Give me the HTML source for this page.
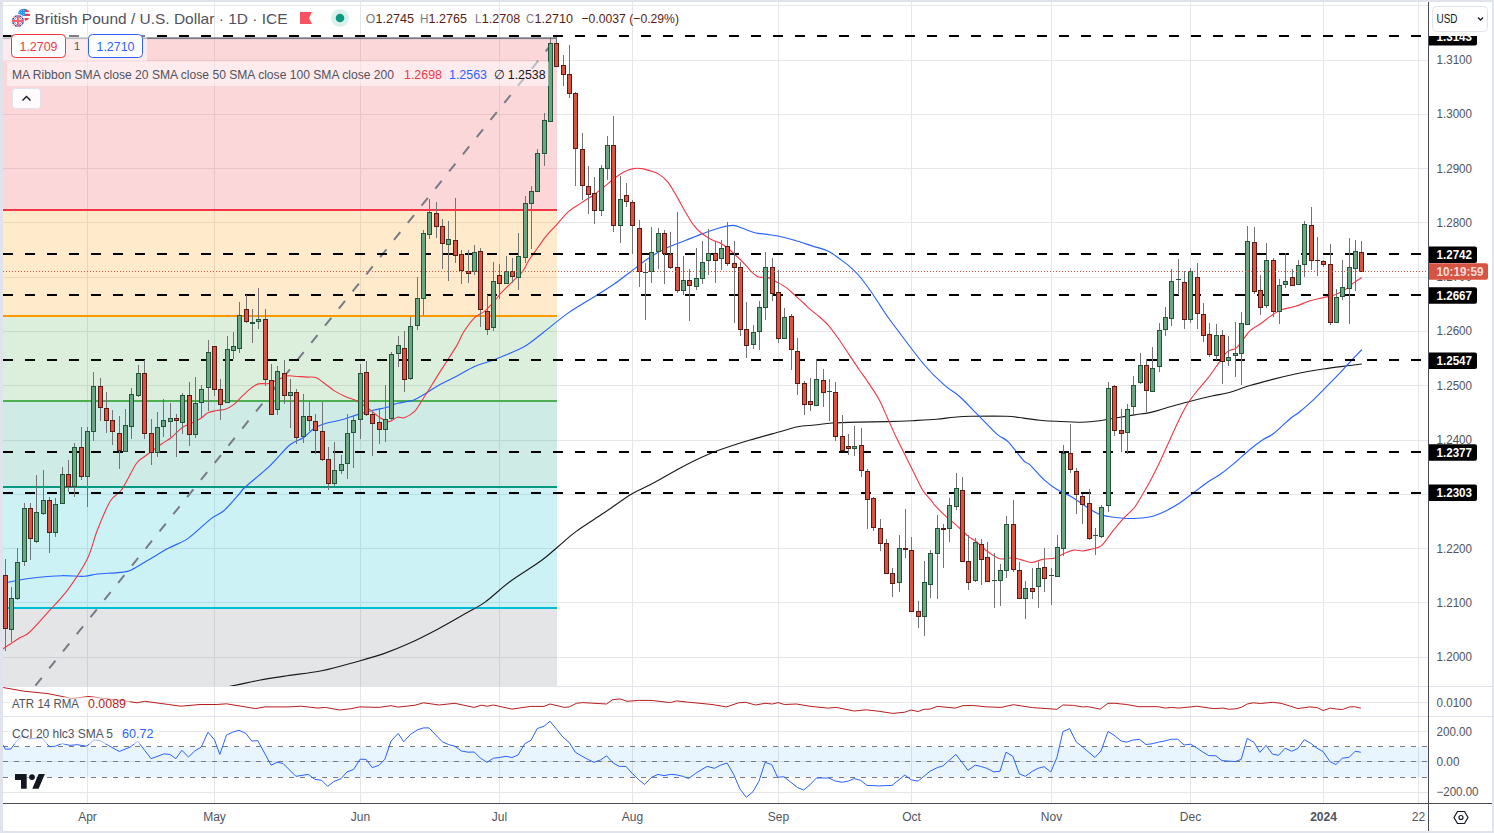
<!DOCTYPE html><html><head><meta charset="utf-8"><title>GBPUSD chart</title>
<style>html,body{margin:0;padding:0;background:#e0e3eb;}body{width:1494px;height:833px;overflow:hidden;position:relative;font-family:"Liberation Sans",sans-serif;}svg{position:absolute;left:0;top:0;display:block;}text{font-family:"Liberation Sans",sans-serif;}</style></head><body>
<svg width="1494" height="833" viewBox="0 0 1494 833">
<rect x="0" y="0" width="1494" height="833" fill="#e0e3eb"/>
<rect x="3" y="2" width="1489" height="829" fill="#ffffff"/>
<defs><clipPath id="cm"><rect x="3" y="2" width="1425.5" height="684"/></clipPath><clipPath id="ca"><rect x="3" y="687" width="1425.5" height="29"/></clipPath><clipPath id="cc"><rect x="3" y="717" width="1425.5" height="86.5"/></clipPath></defs>
<g stroke="#e6e6e8" stroke-width="1" shape-rendering="crispEdges">
<line x1="87.5" y1="2" x2="87.5" y2="803.5"/>
<line x1="214.5" y1="2" x2="214.5" y2="803.5"/>
<line x1="360.5" y1="2" x2="360.5" y2="803.5"/>
<line x1="499.5" y1="2" x2="499.5" y2="803.5"/>
<line x1="632.5" y1="2" x2="632.5" y2="803.5"/>
<line x1="778.5" y1="2" x2="778.5" y2="803.5"/>
<line x1="911.5" y1="2" x2="911.5" y2="803.5"/>
<line x1="1051.5" y1="2" x2="1051.5" y2="803.5"/>
<line x1="1190.5" y1="2" x2="1190.5" y2="803.5"/>
<line x1="1323.5" y1="2" x2="1323.5" y2="803.5"/>
<line x1="1418.5" y1="2" x2="1418.5" y2="803.5"/>
<line x1="3" y1="5.5" x2="1428.5" y2="5.5"/>
<line x1="3" y1="60.5" x2="1428.5" y2="60.5"/>
<line x1="3" y1="114.5" x2="1428.5" y2="114.5"/>
<line x1="3" y1="168.5" x2="1428.5" y2="168.5"/>
<line x1="3" y1="222.5" x2="1428.5" y2="222.5"/>
<line x1="3" y1="277.5" x2="1428.5" y2="277.5"/>
<line x1="3" y1="331.5" x2="1428.5" y2="331.5"/>
<line x1="3" y1="385.5" x2="1428.5" y2="385.5"/>
<line x1="3" y1="440.5" x2="1428.5" y2="440.5"/>
<line x1="3" y1="494.5" x2="1428.5" y2="494.5"/>
<line x1="3" y1="548.5" x2="1428.5" y2="548.5"/>
<line x1="3" y1="602.5" x2="1428.5" y2="602.5"/>
<line x1="3" y1="657.5" x2="1428.5" y2="657.5"/>
<line x1="3" y1="702.5" x2="1428.5" y2="702.5"/>
<line x1="3" y1="731.5" x2="1428.5" y2="731.5"/>
<line x1="3" y1="761.5" x2="1428.5" y2="761.5"/>
<line x1="3" y1="792.5" x2="1428.5" y2="792.5"/>
</g>
<g shape-rendering="crispEdges">
<rect x="3" y="39" width="554" height="171" fill="#f23645" fill-opacity="0.2"/>
<rect x="3" y="210" width="554" height="106" fill="#ff9800" fill-opacity="0.2"/>
<rect x="3" y="316" width="554" height="85" fill="#4caf50" fill-opacity="0.2"/>
<rect x="3" y="401" width="554" height="86" fill="#089981" fill-opacity="0.2"/>
<rect x="3" y="487" width="554" height="120.5" fill="#00bcd4" fill-opacity="0.2"/>
<rect x="3" y="607.5" width="554" height="78.5" fill="#787b86" fill-opacity="0.2"/>
</g>
<g stroke-width="2" shape-rendering="crispEdges">
<rect x="3" y="37.3" width="554" height="1.8" fill="#787b86" shape-rendering="auto"/>
<line x1="3" y1="210" x2="557" y2="210" stroke="#f23645"/>
<line x1="3" y1="316" x2="557" y2="316" stroke="#ff9800"/>
<line x1="3" y1="401" x2="557" y2="401" stroke="#4caf50"/>
<line x1="3" y1="487" x2="557" y2="487" stroke="#089981"/>
<line x1="3" y1="607.5" x2="557" y2="607.5" stroke="#00bcd4"/>
</g>
<g stroke="#e0e3eb" stroke-width="1" shape-rendering="crispEdges">
<line x1="3" y1="686.5" x2="1492" y2="686.5"/><line x1="3" y1="716.5" x2="1492" y2="716.5"/>
</g>
<rect x="3" y="746.5" width="1425.5" height="30.5" fill="#2196f3" fill-opacity="0.1" shape-rendering="crispEdges"/>
<g stroke="#787b86" stroke-width="1" stroke-dasharray="5 6" shape-rendering="crispEdges">
<line x1="3" y1="746.5" x2="1428.5" y2="746.5"/>
<line x1="3" y1="761.5" x2="1428.5" y2="761.5"/>
<line x1="3" y1="777.5" x2="1428.5" y2="777.5"/>
</g>
<g clip-path="url(#cm)">
<line x1="31.9" y1="690" x2="556.5" y2="38" stroke="#787b86" stroke-width="2" stroke-dasharray="10 12" stroke-dashoffset="16.4"/>
<path d="M225.0 687.5C226.0 687.3 225.8 687.3 231.3 686.1C236.8 684.9 250.3 681.9 259.2 680.2C268.1 678.5 277.0 677.2 287.0 675.7C297.0 674.2 310.7 673.0 321.8 670.8C332.9 668.6 346.6 664.5 356.6 661.7C366.6 658.9 376.1 656.3 384.5 653.4C392.9 650.5 400.4 647.4 408.8 643.6C417.2 639.8 427.8 634.4 436.7 629.7C445.6 625.0 456.7 618.5 464.5 614.1C472.3 609.7 478.2 607.1 485.4 601.9C492.6 596.7 500.9 588.3 509.8 581.7C518.7 575.1 533.3 566.5 541.1 560.8C548.9 555.1 552.9 550.9 558.5 546.2C564.1 541.5 568.7 536.9 575.9 531.6C583.1 526.3 594.8 519.1 603.7 513.1C612.6 507.1 623.8 498.7 631.6 494.0C639.4 489.3 644.7 487.7 652.5 483.5C660.3 479.3 672.5 472.1 680.3 467.9C688.1 463.7 694.8 460.3 701.2 457.4C707.6 454.5 712.2 452.6 720.0 449.8C727.8 447.0 740.4 442.9 750.0 440.0C759.6 437.1 772.4 433.8 780.0 431.7C787.6 429.6 791.8 427.9 797.4 426.8C803.0 425.7 809.2 425.6 814.8 425.0C820.4 424.4 825.2 423.5 832.2 423.0C839.2 422.5 849.4 422.3 858.3 422.1C867.2 421.9 879.3 421.8 887.9 421.6C896.5 421.4 904.5 421.1 912.3 420.7C920.1 420.3 929.9 419.9 936.6 419.3C943.3 418.7 948.4 417.7 954.0 417.2C959.6 416.7 963.0 416.4 971.4 416.3C979.8 416.2 997.8 416.0 1006.2 416.3C1014.6 416.6 1018.2 417.5 1023.6 418.1C1029.0 418.7 1034.8 419.7 1040.0 420.2C1045.2 420.7 1049.3 421.0 1056.1 421.3C1062.9 421.6 1075.2 422.3 1082.2 422.2C1089.2 422.1 1094.0 421.5 1099.6 420.8C1105.2 420.1 1111.4 418.7 1117.0 417.8C1122.6 416.9 1128.8 415.8 1134.4 414.9C1140.0 414.0 1146.4 413.3 1151.8 412.1C1157.2 410.9 1162.1 409.0 1168.3 407.3C1174.5 405.6 1183.4 403.0 1190.4 401.2C1197.4 399.4 1205.6 397.4 1211.8 396.0C1218.0 394.6 1223.1 394.2 1229.2 392.5C1235.3 390.8 1243.1 387.6 1250.1 385.5C1257.1 383.4 1264.9 381.4 1272.7 379.4C1280.5 377.4 1290.7 375.0 1298.8 373.3C1306.9 371.6 1315.0 370.2 1323.2 369.0C1331.4 367.8 1343.9 366.3 1350.0 365.5C1356.1 364.7 1359.7 364.2 1361.5 364.0" fill="none" stroke="#1a1a1a" stroke-width="1.15" stroke-linejoin="round" stroke-linecap="round"/>
<path d="M3.2 583.2C5.8 582.7 13.8 580.9 19.5 580.0C25.2 579.1 32.3 578.0 39.0 577.3C45.7 576.6 54.4 575.9 61.6 575.7C68.8 575.5 78.6 576.6 84.3 576.3C90.0 576.0 91.6 574.6 97.3 574.0C103.0 573.4 114.5 573.1 120.0 572.4C125.5 571.7 126.7 572.0 131.4 569.9C136.1 567.8 143.2 563.0 149.2 559.5C155.2 556.0 162.5 551.5 168.7 548.1C174.9 544.7 181.4 543.1 188.1 538.4C194.8 533.7 205.1 523.3 210.8 518.9C216.5 514.5 219.1 514.9 223.8 510.8C228.5 506.7 236.6 496.8 240.0 493.0C243.4 489.2 240.5 491.3 245.2 487.0C249.9 482.7 262.5 472.8 269.6 466.1C276.7 459.4 284.2 449.6 289.7 445.0C295.2 440.4 299.8 440.1 303.7 437.5C307.6 434.9 310.3 430.8 313.9 428.5C317.5 426.2 321.6 424.7 326.1 423.3C330.6 421.9 336.8 421.2 341.8 419.8C346.8 418.4 352.4 416.1 357.4 414.6C362.4 413.1 368.4 411.5 373.1 410.3C377.8 409.1 383.1 408.4 387.0 407.3C390.9 406.2 393.3 404.4 397.5 403.3C401.7 402.2 408.7 401.8 413.1 400.3C417.5 398.8 421.1 396.1 425.3 393.7C429.5 391.3 434.2 387.8 439.2 385.0C444.2 382.2 451.0 379.2 456.6 376.3C462.2 373.4 468.4 369.3 474.0 366.8C479.6 364.3 485.8 362.8 491.4 360.7C497.0 358.6 503.2 356.1 508.8 353.7C514.4 351.3 520.6 348.9 526.2 345.5C531.8 342.1 536.9 337.5 543.6 332.3C550.3 327.1 559.4 319.1 568.0 313.1C576.6 307.1 590.0 299.5 597.5 294.8C605.0 290.1 609.7 287.1 614.9 283.5C620.1 279.9 624.8 276.1 630.0 272.2C635.2 268.3 641.8 262.9 647.4 259.1C653.0 255.3 658.7 251.7 664.8 248.7C670.9 245.7 679.2 242.9 685.3 240.5C691.4 238.1 697.1 235.6 702.7 233.6C708.3 231.6 715.2 229.1 720.1 227.8C725.0 226.5 729.6 225.3 733.2 225.4C736.8 225.5 739.3 227.1 742.8 228.3C746.3 229.5 751.0 231.7 754.9 232.7C758.8 233.7 763.1 233.8 767.1 234.4C771.1 235.0 775.8 235.6 780.0 236.5C784.2 237.4 788.4 238.5 793.6 240.0C798.8 241.5 807.1 244.3 812.7 246.1C818.3 247.9 824.2 249.3 828.4 251.3C832.6 253.3 835.5 255.9 838.8 258.3C842.1 260.7 846.0 263.2 849.3 266.1C852.6 269.0 856.4 272.6 859.7 276.5C863.0 280.4 866.9 285.8 870.2 290.5C873.5 295.2 877.4 301.4 880.6 306.1C883.8 310.8 883.0 310.6 890.0 320.0C897.0 329.4 915.6 354.5 924.4 365.0C933.2 375.5 939.7 380.9 945.3 385.9C950.9 390.9 953.7 391.3 959.3 396.3C964.9 401.3 974.0 411.1 980.1 417.2C986.2 423.3 993.0 430.7 997.5 434.6C1002.0 438.5 1003.8 437.4 1008.0 441.6C1012.2 445.8 1020.1 457.0 1023.6 460.7C1027.1 464.4 1026.8 461.8 1030.0 464.8C1033.2 467.8 1039.5 475.6 1043.9 479.6C1048.3 483.6 1053.3 487.3 1057.8 490.1C1062.3 492.9 1067.1 494.2 1071.8 497.0C1076.5 499.8 1083.0 504.7 1087.4 507.5C1091.8 510.3 1095.7 512.9 1099.6 514.4C1103.5 515.9 1107.9 516.4 1111.8 517.0C1115.7 517.6 1119.8 518.1 1124.0 518.3C1128.2 518.5 1133.5 518.6 1137.9 518.3C1142.3 518.0 1147.3 517.7 1151.8 516.5C1156.3 515.3 1161.3 513.0 1165.8 510.9C1170.3 508.8 1175.3 506.0 1179.7 503.1C1184.1 500.2 1189.2 496.0 1193.6 492.7C1198.0 489.4 1203.1 485.3 1207.5 482.2C1211.9 479.1 1216.9 476.7 1221.4 473.5C1225.9 470.3 1230.9 466.0 1235.4 462.2C1239.9 458.4 1244.9 453.6 1249.3 450.0C1253.7 446.4 1259.3 442.2 1263.2 439.6C1267.1 437.0 1269.4 436.8 1273.7 433.5C1278.0 430.2 1286.0 422.1 1290.0 418.7C1294.0 415.3 1295.2 415.4 1298.8 412.5C1302.4 409.6 1308.6 404.2 1312.8 400.3C1317.0 396.4 1321.1 392.0 1325.0 388.1C1328.9 384.2 1333.1 380.1 1337.1 375.9C1341.1 371.7 1346.1 366.1 1350.0 362.0C1353.9 357.9 1359.7 351.9 1361.5 350.0" fill="none" stroke="#2962ff" stroke-width="1.15" stroke-linejoin="round" stroke-linecap="round"/>
<path d="M3.2 648.7C5.8 647.0 15.3 640.6 19.5 638.0C23.7 635.4 24.5 636.8 29.2 632.5C33.9 628.2 42.5 618.3 48.7 611.4C54.9 604.5 62.0 597.6 68.1 589.3C74.2 581.0 82.3 568.9 87.0 559.5C91.7 550.1 93.6 539.7 97.3 530.3C101.0 520.9 106.4 507.5 110.3 501.0C114.2 494.5 117.5 495.7 121.6 489.7C125.7 483.7 132.6 469.1 136.2 463.8C139.8 458.5 140.3 459.8 144.3 456.7C148.3 453.6 156.6 447.6 160.9 444.5C165.2 441.4 168.1 440.2 171.4 437.5C174.7 434.8 178.5 430.3 181.8 427.9C185.1 425.5 189.2 424.2 192.3 422.7C195.4 421.2 198.5 419.9 201.0 418.3C203.5 416.7 205.4 414.0 207.9 412.8C210.4 411.6 213.8 411.1 216.6 410.5C219.4 409.9 222.5 410.3 225.3 409.3C228.1 408.3 231.2 406.6 234.0 404.4C236.8 402.2 239.9 398.3 242.7 395.7C245.5 393.1 248.9 389.8 251.4 387.9C253.9 386.0 255.6 384.6 258.4 383.9C261.2 383.2 265.7 384.1 268.8 383.5C271.9 382.9 274.7 381.2 277.5 380.0C280.3 378.8 283.4 376.6 286.2 376.0C289.0 375.4 291.6 376.0 294.9 376.2C298.2 376.4 303.8 376.9 307.1 377.1C310.4 377.3 312.9 376.5 315.7 377.5C318.5 378.5 321.3 381.1 324.4 383.3C327.5 385.5 331.2 388.9 334.8 391.1C338.4 393.3 343.4 395.6 347.0 397.2C350.6 398.8 353.8 399.2 357.4 401.2C361.0 403.2 366.3 407.0 369.6 409.4C372.9 411.8 375.2 414.4 378.3 416.4C381.4 418.4 385.7 421.5 388.8 421.6C391.9 421.7 395.0 417.8 397.5 417.2C400.0 416.6 401.6 418.7 404.4 417.7C407.2 416.7 412.1 413.8 414.9 411.1C417.7 408.4 419.0 405.0 421.8 400.7C424.6 396.4 429.0 389.5 432.3 384.2C435.6 378.9 438.8 373.7 442.7 367.6C446.6 361.5 453.3 351.5 456.6 345.9C459.9 340.3 460.7 336.7 463.5 332.3C466.3 327.9 470.7 321.6 474.0 318.3C477.3 315.0 481.3 313.9 484.4 311.4C487.5 308.9 490.3 305.8 493.1 302.7C495.9 299.6 498.7 295.5 501.8 292.2C504.9 288.9 509.0 285.1 512.3 281.8C515.6 278.5 520.1 274.8 522.7 271.4C525.3 268.0 526.3 264.2 528.7 260.5C531.1 256.8 534.6 252.2 537.4 248.3C540.2 244.4 543.0 240.0 546.1 236.2C549.2 232.4 552.9 228.8 556.5 224.8C560.1 220.8 564.8 214.9 568.7 211.4C572.6 207.9 577.0 205.7 580.9 203.1C584.8 200.5 589.5 197.8 593.1 195.3C596.7 192.8 600.2 190.1 603.5 187.4C606.8 184.7 610.7 181.2 614.0 178.7C617.3 176.2 621.3 173.4 624.4 171.8C627.5 170.2 630.3 169.1 633.1 168.6C635.9 168.1 639.0 168.2 641.8 168.6C644.6 169.0 647.7 170.0 650.5 170.9C653.3 171.8 656.4 172.6 659.2 174.4C662.0 176.2 665.1 178.7 667.9 182.2C670.7 185.7 673.8 191.4 676.6 196.1C679.4 200.8 682.5 207.1 685.3 211.8C688.1 216.5 691.5 222.4 694.0 225.7C696.5 229.0 698.2 230.5 701.0 232.7C703.8 234.9 708.3 237.9 711.4 239.6C714.5 241.3 717.3 241.6 720.1 243.1C722.9 244.6 726.0 247.0 728.8 249.2C731.6 251.4 734.7 254.4 737.5 257.0C740.3 259.6 743.9 263.3 746.2 265.7C748.5 268.1 749.8 270.4 751.8 272.2C753.8 274.0 756.3 276.3 758.8 277.1C761.3 277.9 764.4 276.5 767.5 277.4C770.6 278.3 774.8 280.9 777.9 282.6C781.0 284.3 783.8 285.8 786.6 287.9C789.4 290.0 792.5 293.2 795.3 295.7C798.1 298.2 801.8 301.4 804.0 303.5C806.2 305.6 807.1 306.7 809.3 308.7C811.5 310.7 814.9 313.0 818.0 315.7C821.1 318.4 825.1 321.5 828.4 325.3C831.7 329.1 835.5 334.5 838.8 339.2C842.1 343.9 846.0 349.9 849.3 354.9C852.6 359.9 856.9 366.4 859.7 370.5C862.5 374.6 863.9 376.0 867.0 380.7C870.1 385.4 875.9 393.7 879.2 399.8C882.5 405.9 885.1 412.9 887.9 419.0C890.7 425.1 893.8 432.3 896.6 438.1C899.4 443.9 902.5 449.9 905.3 455.5C908.1 461.1 911.2 467.3 914.0 472.9C916.8 478.5 919.9 485.9 922.7 490.3C925.5 494.7 929.4 498.3 931.4 500.7C933.4 503.1 932.7 503.0 934.9 505.4C937.1 507.8 942.0 512.8 945.3 515.9C948.6 519.0 952.1 521.4 955.7 524.6C959.3 527.8 964.6 533.1 967.9 535.9C971.2 538.7 973.8 539.8 976.6 542.0C979.4 544.2 982.5 547.6 985.3 549.8C988.1 552.0 991.5 554.4 994.0 555.9C996.5 557.4 998.2 558.7 1001.0 559.0C1003.8 559.3 1008.3 557.6 1011.4 557.7C1014.5 557.8 1016.9 558.6 1020.1 559.4C1023.3 560.2 1027.8 562.5 1031.4 562.5C1035.0 562.5 1039.0 560.1 1042.8 559.4C1046.6 558.7 1051.8 558.8 1054.9 558.0C1058.0 557.2 1059.2 555.7 1062.2 554.4C1065.2 553.1 1070.3 550.6 1073.5 550.1C1076.7 549.6 1079.4 551.1 1082.2 551.0C1085.0 550.9 1087.8 550.0 1090.9 549.2C1094.0 548.4 1097.8 548.8 1101.4 545.7C1105.0 542.6 1109.9 534.5 1113.5 530.1C1117.1 525.7 1120.7 521.5 1124.0 517.9C1127.3 514.3 1131.3 511.4 1134.4 507.5C1137.5 503.6 1140.3 498.2 1143.1 493.5C1145.9 488.8 1149.0 483.2 1151.8 477.9C1154.6 472.6 1157.7 466.4 1160.5 460.5C1163.3 454.6 1166.4 447.4 1169.2 441.3C1172.0 435.2 1175.0 428.2 1177.9 422.2C1180.8 416.2 1184.3 409.0 1187.5 403.8C1190.7 398.6 1194.6 394.1 1197.9 389.9C1201.2 385.7 1205.0 382.0 1208.3 377.7C1211.6 373.4 1215.7 367.1 1218.8 362.9C1221.9 358.7 1224.7 354.0 1227.5 351.6C1230.3 349.2 1233.7 350.1 1236.2 348.1C1238.7 346.1 1241.0 342.2 1243.2 339.4C1245.4 336.6 1247.3 333.2 1250.1 330.7C1252.9 328.2 1257.3 326.1 1260.6 323.7C1263.9 321.3 1267.7 318.1 1271.0 315.9C1274.3 313.7 1277.5 311.3 1281.4 309.8C1285.3 308.3 1290.9 307.7 1295.4 306.3C1299.9 304.9 1304.9 302.5 1309.3 301.1C1313.7 299.7 1319.2 298.6 1323.2 297.6C1327.2 296.6 1331.0 296.3 1334.5 295.1C1338.0 293.9 1341.8 291.8 1344.9 289.8C1348.0 287.8 1350.9 284.8 1353.6 282.9C1356.3 281.0 1360.2 278.5 1361.5 277.7" fill="none" stroke="#f23645" stroke-width="1.1" stroke-linejoin="round" stroke-linecap="round"/>
<g stroke="#000000" stroke-width="2" stroke-dasharray="10 12" shape-rendering="crispEdges">
<line x1="2.9" y1="36" x2="1428.5" y2="36"/>
<line x1="2.9" y1="254" x2="1428.5" y2="254"/>
<line x1="2.9" y1="295" x2="1428.5" y2="295"/>
<line x1="2.9" y1="360" x2="1428.5" y2="360"/>
<line x1="2.9" y1="452" x2="1428.5" y2="452"/>
<line x1="2.9" y1="493" x2="1428.5" y2="493"/>
</g>
<g shape-rendering="crispEdges">
<rect x="5.0" y="559" width="1" height="92" fill="#737375"/>
<rect x="3.0" y="575" width="5" height="54" fill="#5b1a13"/>
<rect x="4.0" y="576" width="3" height="52" fill="#d75442"/>
<rect x="11.0" y="587" width="1" height="55" fill="#737375"/>
<rect x="9.0" y="598" width="5" height="32" fill="#225437"/>
<rect x="10.0" y="599" width="3" height="30" fill="#6ba583"/>
<rect x="17.0" y="548" width="1" height="52" fill="#737375"/>
<rect x="15.0" y="562" width="5" height="37" fill="#225437"/>
<rect x="16.0" y="563" width="3" height="35" fill="#6ba583"/>
<rect x="24.0" y="503" width="1" height="63" fill="#737375"/>
<rect x="22.0" y="508" width="5" height="54" fill="#225437"/>
<rect x="23.0" y="509" width="3" height="52" fill="#6ba583"/>
<rect x="30.0" y="503" width="1" height="57" fill="#737375"/>
<rect x="28.0" y="508" width="5" height="31" fill="#5b1a13"/>
<rect x="29.0" y="509" width="3" height="29" fill="#d75442"/>
<rect x="36.0" y="475" width="1" height="68" fill="#737375"/>
<rect x="34.0" y="512" width="5" height="30" fill="#225437"/>
<rect x="35.0" y="513" width="3" height="28" fill="#6ba583"/>
<rect x="43.0" y="470" width="1" height="45" fill="#737375"/>
<rect x="41.0" y="500" width="5" height="14" fill="#225437"/>
<rect x="42.0" y="501" width="3" height="12" fill="#6ba583"/>
<rect x="49.0" y="497" width="1" height="56" fill="#737375"/>
<rect x="47.0" y="500" width="5" height="33" fill="#5b1a13"/>
<rect x="48.0" y="501" width="3" height="31" fill="#d75442"/>
<rect x="55.0" y="498" width="1" height="39" fill="#737375"/>
<rect x="53.0" y="504" width="5" height="29" fill="#225437"/>
<rect x="54.0" y="505" width="3" height="27" fill="#6ba583"/>
<rect x="62.0" y="467" width="1" height="37" fill="#737375"/>
<rect x="60.0" y="474" width="5" height="30" fill="#225437"/>
<rect x="61.0" y="475" width="3" height="28" fill="#6ba583"/>
<rect x="68.0" y="460" width="1" height="32" fill="#737375"/>
<rect x="66.0" y="474" width="5" height="13" fill="#5b1a13"/>
<rect x="67.0" y="475" width="3" height="11" fill="#d75442"/>
<rect x="74.0" y="443" width="1" height="54" fill="#737375"/>
<rect x="72.0" y="447" width="5" height="40" fill="#225437"/>
<rect x="73.0" y="448" width="3" height="38" fill="#6ba583"/>
<rect x="81.0" y="427" width="1" height="53" fill="#737375"/>
<rect x="79.0" y="447" width="5" height="30" fill="#5b1a13"/>
<rect x="80.0" y="448" width="3" height="28" fill="#d75442"/>
<rect x="87.0" y="427" width="1" height="80" fill="#737375"/>
<rect x="85.0" y="431" width="5" height="46" fill="#225437"/>
<rect x="86.0" y="432" width="3" height="44" fill="#6ba583"/>
<rect x="93.0" y="372" width="1" height="69" fill="#737375"/>
<rect x="91.0" y="386" width="5" height="46" fill="#225437"/>
<rect x="92.0" y="387" width="3" height="44" fill="#6ba583"/>
<rect x="100.0" y="378" width="1" height="43" fill="#737375"/>
<rect x="98.0" y="386" width="5" height="22" fill="#5b1a13"/>
<rect x="99.0" y="387" width="3" height="20" fill="#d75442"/>
<rect x="106.0" y="392" width="1" height="41" fill="#737375"/>
<rect x="104.0" y="408" width="5" height="13" fill="#5b1a13"/>
<rect x="105.0" y="409" width="3" height="11" fill="#d75442"/>
<rect x="112.0" y="410" width="1" height="35" fill="#737375"/>
<rect x="110.0" y="420" width="5" height="12" fill="#5b1a13"/>
<rect x="111.0" y="421" width="3" height="10" fill="#d75442"/>
<rect x="119.0" y="416" width="1" height="53" fill="#737375"/>
<rect x="117.0" y="433" width="5" height="18" fill="#5b1a13"/>
<rect x="118.0" y="434" width="3" height="16" fill="#d75442"/>
<rect x="125.0" y="409" width="1" height="43" fill="#737375"/>
<rect x="123.0" y="425" width="5" height="27" fill="#225437"/>
<rect x="124.0" y="426" width="3" height="25" fill="#6ba583"/>
<rect x="131.0" y="388" width="1" height="51" fill="#737375"/>
<rect x="129.0" y="394" width="5" height="33" fill="#225437"/>
<rect x="130.0" y="395" width="3" height="31" fill="#6ba583"/>
<rect x="138.0" y="365" width="1" height="32" fill="#737375"/>
<rect x="136.0" y="373" width="5" height="23" fill="#225437"/>
<rect x="137.0" y="374" width="3" height="21" fill="#6ba583"/>
<rect x="144.0" y="360" width="1" height="79" fill="#737375"/>
<rect x="142.0" y="373" width="5" height="61" fill="#5b1a13"/>
<rect x="143.0" y="374" width="3" height="59" fill="#d75442"/>
<rect x="151.0" y="419" width="1" height="46" fill="#737375"/>
<rect x="149.0" y="433" width="5" height="20" fill="#5b1a13"/>
<rect x="150.0" y="434" width="3" height="18" fill="#d75442"/>
<rect x="157.0" y="412" width="1" height="45" fill="#737375"/>
<rect x="155.0" y="427" width="5" height="26" fill="#225437"/>
<rect x="156.0" y="428" width="3" height="24" fill="#6ba583"/>
<rect x="163.0" y="399" width="1" height="38" fill="#737375"/>
<rect x="161.0" y="420" width="5" height="7" fill="#225437"/>
<rect x="162.0" y="421" width="3" height="5" fill="#6ba583"/>
<rect x="170.0" y="403" width="1" height="34" fill="#737375"/>
<rect x="168.0" y="418" width="5" height="4" fill="#225437"/>
<rect x="169.0" y="419" width="3" height="2" fill="#6ba583"/>
<rect x="176.0" y="414" width="1" height="43" fill="#737375"/>
<rect x="174.0" y="418" width="5" height="3" fill="#5b1a13"/>
<rect x="175.0" y="419" width="3" height="1" fill="#d75442"/>
<rect x="182.0" y="393" width="1" height="41" fill="#737375"/>
<rect x="180.0" y="395" width="5" height="28" fill="#225437"/>
<rect x="181.0" y="396" width="3" height="26" fill="#6ba583"/>
<rect x="189.0" y="382" width="1" height="64" fill="#737375"/>
<rect x="187.0" y="395" width="5" height="40" fill="#5b1a13"/>
<rect x="188.0" y="396" width="3" height="38" fill="#d75442"/>
<rect x="195.0" y="377" width="1" height="61" fill="#737375"/>
<rect x="193.0" y="403" width="5" height="32" fill="#225437"/>
<rect x="194.0" y="404" width="3" height="30" fill="#6ba583"/>
<rect x="201.0" y="385" width="1" height="33" fill="#737375"/>
<rect x="199.0" y="389" width="5" height="14" fill="#225437"/>
<rect x="200.0" y="390" width="3" height="12" fill="#6ba583"/>
<rect x="208.0" y="340" width="1" height="71" fill="#737375"/>
<rect x="206.0" y="352" width="5" height="36" fill="#225437"/>
<rect x="207.0" y="353" width="3" height="34" fill="#6ba583"/>
<rect x="214.0" y="346" width="1" height="50" fill="#737375"/>
<rect x="212.0" y="346" width="5" height="44" fill="#5b1a13"/>
<rect x="213.0" y="347" width="3" height="42" fill="#d75442"/>
<rect x="220.0" y="379" width="1" height="41" fill="#737375"/>
<rect x="218.0" y="389" width="5" height="16" fill="#5b1a13"/>
<rect x="219.0" y="390" width="3" height="14" fill="#d75442"/>
<rect x="227.0" y="336" width="1" height="67" fill="#737375"/>
<rect x="225.0" y="349" width="5" height="54" fill="#225437"/>
<rect x="226.0" y="350" width="3" height="52" fill="#6ba583"/>
<rect x="233.0" y="332" width="1" height="27" fill="#737375"/>
<rect x="231.0" y="346" width="5" height="5" fill="#225437"/>
<rect x="232.0" y="347" width="3" height="3" fill="#6ba583"/>
<rect x="239.0" y="302" width="1" height="51" fill="#737375"/>
<rect x="237.0" y="315" width="5" height="34" fill="#225437"/>
<rect x="238.0" y="316" width="3" height="32" fill="#6ba583"/>
<rect x="246.0" y="295" width="1" height="28" fill="#737375"/>
<rect x="244.0" y="309" width="5" height="13" fill="#5b1a13"/>
<rect x="245.0" y="310" width="3" height="11" fill="#d75442"/>
<rect x="252.0" y="309" width="1" height="34" fill="#737375"/>
<rect x="250.0" y="322" width="5" height="2" fill="#225437"/>
<rect x="258.0" y="288" width="1" height="41" fill="#737375"/>
<rect x="256.0" y="319" width="5" height="3" fill="#225437"/>
<rect x="257.0" y="320" width="3" height="1" fill="#6ba583"/>
<rect x="265.0" y="309" width="1" height="77" fill="#737375"/>
<rect x="263.0" y="319" width="5" height="61" fill="#5b1a13"/>
<rect x="264.0" y="320" width="3" height="59" fill="#d75442"/>
<rect x="271.0" y="364" width="1" height="51" fill="#737375"/>
<rect x="269.0" y="380" width="5" height="35" fill="#5b1a13"/>
<rect x="270.0" y="381" width="3" height="33" fill="#d75442"/>
<rect x="277.0" y="366" width="1" height="49" fill="#737375"/>
<rect x="275.0" y="371" width="5" height="39" fill="#225437"/>
<rect x="276.0" y="372" width="3" height="37" fill="#6ba583"/>
<rect x="284.0" y="360" width="1" height="44" fill="#737375"/>
<rect x="282.0" y="373" width="5" height="23" fill="#5b1a13"/>
<rect x="283.0" y="374" width="3" height="21" fill="#d75442"/>
<rect x="290.0" y="379" width="1" height="49" fill="#737375"/>
<rect x="288.0" y="392" width="5" height="4" fill="#225437"/>
<rect x="289.0" y="393" width="3" height="2" fill="#6ba583"/>
<rect x="296.0" y="389" width="1" height="55" fill="#737375"/>
<rect x="294.0" y="392" width="5" height="46" fill="#5b1a13"/>
<rect x="295.0" y="393" width="3" height="44" fill="#d75442"/>
<rect x="303.0" y="394" width="1" height="49" fill="#737375"/>
<rect x="301.0" y="416" width="5" height="21" fill="#225437"/>
<rect x="302.0" y="417" width="3" height="19" fill="#6ba583"/>
<rect x="309.0" y="401" width="1" height="30" fill="#737375"/>
<rect x="307.0" y="416" width="5" height="5" fill="#5b1a13"/>
<rect x="308.0" y="417" width="3" height="3" fill="#d75442"/>
<rect x="315.0" y="414" width="1" height="40" fill="#737375"/>
<rect x="313.0" y="421" width="5" height="10" fill="#5b1a13"/>
<rect x="314.0" y="422" width="3" height="8" fill="#d75442"/>
<rect x="322.0" y="402" width="1" height="59" fill="#737375"/>
<rect x="320.0" y="431" width="5" height="29" fill="#5b1a13"/>
<rect x="321.0" y="432" width="3" height="27" fill="#d75442"/>
<rect x="328.0" y="447" width="1" height="43" fill="#737375"/>
<rect x="326.0" y="459" width="5" height="25" fill="#5b1a13"/>
<rect x="327.0" y="460" width="3" height="23" fill="#d75442"/>
<rect x="334.0" y="442" width="1" height="44" fill="#737375"/>
<rect x="332.0" y="470" width="5" height="14" fill="#225437"/>
<rect x="333.0" y="471" width="3" height="12" fill="#6ba583"/>
<rect x="341.0" y="455" width="1" height="19" fill="#737375"/>
<rect x="339.0" y="464" width="5" height="7" fill="#225437"/>
<rect x="340.0" y="465" width="3" height="5" fill="#6ba583"/>
<rect x="347.0" y="414" width="1" height="65" fill="#737375"/>
<rect x="345.0" y="433" width="5" height="31" fill="#225437"/>
<rect x="346.0" y="434" width="3" height="29" fill="#6ba583"/>
<rect x="353.0" y="416" width="1" height="52" fill="#737375"/>
<rect x="351.0" y="420" width="5" height="13" fill="#225437"/>
<rect x="352.0" y="421" width="3" height="11" fill="#6ba583"/>
<rect x="360.0" y="364" width="1" height="75" fill="#737375"/>
<rect x="358.0" y="373" width="5" height="47" fill="#225437"/>
<rect x="359.0" y="374" width="3" height="45" fill="#6ba583"/>
<rect x="366.0" y="361" width="1" height="55" fill="#737375"/>
<rect x="364.0" y="372" width="5" height="43" fill="#5b1a13"/>
<rect x="365.0" y="373" width="3" height="41" fill="#d75442"/>
<rect x="372.0" y="412" width="1" height="44" fill="#737375"/>
<rect x="370.0" y="414" width="5" height="10" fill="#5b1a13"/>
<rect x="371.0" y="415" width="3" height="8" fill="#d75442"/>
<rect x="379.0" y="408" width="1" height="36" fill="#737375"/>
<rect x="377.0" y="422" width="5" height="8" fill="#5b1a13"/>
<rect x="378.0" y="423" width="3" height="6" fill="#d75442"/>
<rect x="385.0" y="385" width="1" height="57" fill="#737375"/>
<rect x="383.0" y="419" width="5" height="11" fill="#225437"/>
<rect x="384.0" y="420" width="3" height="9" fill="#6ba583"/>
<rect x="391.0" y="352" width="1" height="68" fill="#737375"/>
<rect x="389.0" y="354" width="5" height="65" fill="#225437"/>
<rect x="390.0" y="355" width="3" height="63" fill="#6ba583"/>
<rect x="398.0" y="336" width="1" height="31" fill="#737375"/>
<rect x="396.0" y="345" width="5" height="9" fill="#225437"/>
<rect x="397.0" y="346" width="3" height="7" fill="#6ba583"/>
<rect x="404.0" y="331" width="1" height="61" fill="#737375"/>
<rect x="402.0" y="348" width="5" height="32" fill="#5b1a13"/>
<rect x="403.0" y="349" width="3" height="30" fill="#d75442"/>
<rect x="410.0" y="317" width="1" height="63" fill="#737375"/>
<rect x="408.0" y="326" width="5" height="53" fill="#225437"/>
<rect x="409.0" y="327" width="3" height="51" fill="#6ba583"/>
<rect x="417.0" y="277" width="1" height="53" fill="#737375"/>
<rect x="415.0" y="298" width="5" height="28" fill="#225437"/>
<rect x="416.0" y="299" width="3" height="26" fill="#6ba583"/>
<rect x="423.0" y="230" width="1" height="85" fill="#737375"/>
<rect x="421.0" y="233" width="5" height="66" fill="#225437"/>
<rect x="422.0" y="234" width="3" height="64" fill="#6ba583"/>
<rect x="429.0" y="199" width="1" height="40" fill="#737375"/>
<rect x="427.0" y="212" width="5" height="23" fill="#225437"/>
<rect x="428.0" y="213" width="3" height="21" fill="#6ba583"/>
<rect x="436.0" y="202" width="1" height="36" fill="#737375"/>
<rect x="434.0" y="213" width="5" height="14" fill="#5b1a13"/>
<rect x="435.0" y="214" width="3" height="12" fill="#d75442"/>
<rect x="442.0" y="219" width="1" height="50" fill="#737375"/>
<rect x="440.0" y="226" width="5" height="18" fill="#5b1a13"/>
<rect x="441.0" y="227" width="3" height="16" fill="#d75442"/>
<rect x="448.0" y="221" width="1" height="60" fill="#737375"/>
<rect x="446.0" y="239" width="5" height="6" fill="#225437"/>
<rect x="447.0" y="240" width="3" height="4" fill="#6ba583"/>
<rect x="455.0" y="198" width="1" height="65" fill="#737375"/>
<rect x="453.0" y="240" width="5" height="16" fill="#5b1a13"/>
<rect x="454.0" y="241" width="3" height="14" fill="#d75442"/>
<rect x="461.0" y="250" width="1" height="34" fill="#737375"/>
<rect x="459.0" y="254" width="5" height="17" fill="#5b1a13"/>
<rect x="460.0" y="255" width="3" height="15" fill="#d75442"/>
<rect x="468.0" y="250" width="1" height="33" fill="#737375"/>
<rect x="466.0" y="271" width="5" height="3" fill="#5b1a13"/>
<rect x="467.0" y="272" width="3" height="1" fill="#d75442"/>
<rect x="474.0" y="245" width="1" height="30" fill="#737375"/>
<rect x="472.0" y="252" width="5" height="20" fill="#225437"/>
<rect x="473.0" y="253" width="3" height="18" fill="#6ba583"/>
<rect x="480.0" y="248" width="1" height="79" fill="#737375"/>
<rect x="478.0" y="251" width="5" height="59" fill="#5b1a13"/>
<rect x="479.0" y="252" width="3" height="57" fill="#d75442"/>
<rect x="487.0" y="295" width="1" height="40" fill="#737375"/>
<rect x="485.0" y="311" width="5" height="19" fill="#5b1a13"/>
<rect x="486.0" y="312" width="3" height="17" fill="#d75442"/>
<rect x="493.0" y="262" width="1" height="69" fill="#737375"/>
<rect x="491.0" y="281" width="5" height="47" fill="#225437"/>
<rect x="492.0" y="282" width="3" height="45" fill="#6ba583"/>
<rect x="499.0" y="264" width="1" height="35" fill="#737375"/>
<rect x="497.0" y="275" width="5" height="9" fill="#5b1a13"/>
<rect x="498.0" y="276" width="3" height="7" fill="#d75442"/>
<rect x="506.0" y="256" width="1" height="28" fill="#737375"/>
<rect x="504.0" y="271" width="5" height="13" fill="#225437"/>
<rect x="505.0" y="272" width="3" height="11" fill="#6ba583"/>
<rect x="512.0" y="258" width="1" height="25" fill="#737375"/>
<rect x="510.0" y="271" width="5" height="6" fill="#5b1a13"/>
<rect x="511.0" y="272" width="3" height="4" fill="#d75442"/>
<rect x="518.0" y="233" width="1" height="57" fill="#737375"/>
<rect x="516.0" y="256" width="5" height="22" fill="#225437"/>
<rect x="517.0" y="257" width="3" height="20" fill="#6ba583"/>
<rect x="525.0" y="196" width="1" height="67" fill="#737375"/>
<rect x="523.0" y="203" width="5" height="55" fill="#225437"/>
<rect x="524.0" y="204" width="3" height="53" fill="#6ba583"/>
<rect x="531.0" y="186" width="1" height="63" fill="#737375"/>
<rect x="529.0" y="191" width="5" height="13" fill="#225437"/>
<rect x="530.0" y="192" width="3" height="11" fill="#6ba583"/>
<rect x="537.0" y="149" width="1" height="43" fill="#737375"/>
<rect x="535.0" y="153" width="5" height="39" fill="#225437"/>
<rect x="536.0" y="154" width="3" height="37" fill="#6ba583"/>
<rect x="544.0" y="113" width="1" height="53" fill="#737375"/>
<rect x="542.0" y="120" width="5" height="34" fill="#225437"/>
<rect x="543.0" y="121" width="3" height="32" fill="#6ba583"/>
<rect x="550.0" y="37" width="1" height="85" fill="#737375"/>
<rect x="548.0" y="43" width="5" height="79" fill="#225437"/>
<rect x="549.0" y="44" width="3" height="77" fill="#6ba583"/>
<rect x="556.0" y="37" width="1" height="30" fill="#737375"/>
<rect x="554.0" y="43" width="5" height="24" fill="#5b1a13"/>
<rect x="555.0" y="44" width="3" height="22" fill="#d75442"/>
<rect x="563.0" y="55" width="1" height="31" fill="#737375"/>
<rect x="561.0" y="65" width="5" height="10" fill="#5b1a13"/>
<rect x="562.0" y="66" width="3" height="8" fill="#d75442"/>
<rect x="569.0" y="45" width="1" height="53" fill="#737375"/>
<rect x="567.0" y="74" width="5" height="20" fill="#5b1a13"/>
<rect x="568.0" y="75" width="3" height="18" fill="#d75442"/>
<rect x="575.0" y="92" width="1" height="94" fill="#737375"/>
<rect x="573.0" y="93" width="5" height="56" fill="#5b1a13"/>
<rect x="574.0" y="94" width="3" height="54" fill="#d75442"/>
<rect x="582.0" y="133" width="1" height="67" fill="#737375"/>
<rect x="580.0" y="149" width="5" height="37" fill="#5b1a13"/>
<rect x="581.0" y="150" width="3" height="35" fill="#d75442"/>
<rect x="588.0" y="166" width="1" height="48" fill="#737375"/>
<rect x="586.0" y="186" width="5" height="9" fill="#5b1a13"/>
<rect x="587.0" y="187" width="3" height="7" fill="#d75442"/>
<rect x="594.0" y="177" width="1" height="47" fill="#737375"/>
<rect x="592.0" y="193" width="5" height="18" fill="#5b1a13"/>
<rect x="593.0" y="194" width="3" height="16" fill="#d75442"/>
<rect x="601.0" y="165" width="1" height="51" fill="#737375"/>
<rect x="599.0" y="168" width="5" height="43" fill="#225437"/>
<rect x="600.0" y="169" width="3" height="41" fill="#6ba583"/>
<rect x="607.0" y="136" width="1" height="44" fill="#737375"/>
<rect x="605.0" y="145" width="5" height="24" fill="#225437"/>
<rect x="606.0" y="146" width="3" height="22" fill="#6ba583"/>
<rect x="613.0" y="116" width="1" height="116" fill="#737375"/>
<rect x="611.0" y="145" width="5" height="81" fill="#5b1a13"/>
<rect x="612.0" y="146" width="3" height="79" fill="#d75442"/>
<rect x="620.0" y="176" width="1" height="67" fill="#737375"/>
<rect x="618.0" y="199" width="5" height="27" fill="#225437"/>
<rect x="619.0" y="200" width="3" height="25" fill="#6ba583"/>
<rect x="626.0" y="183" width="1" height="24" fill="#737375"/>
<rect x="624.0" y="195" width="5" height="7" fill="#5b1a13"/>
<rect x="625.0" y="196" width="3" height="5" fill="#d75442"/>
<rect x="632.0" y="200" width="1" height="54" fill="#737375"/>
<rect x="630.0" y="202" width="5" height="24" fill="#5b1a13"/>
<rect x="631.0" y="203" width="3" height="22" fill="#d75442"/>
<rect x="639.0" y="220" width="1" height="67" fill="#737375"/>
<rect x="637.0" y="228" width="5" height="44" fill="#5b1a13"/>
<rect x="638.0" y="229" width="3" height="42" fill="#d75442"/>
<rect x="645.0" y="263" width="1" height="57" fill="#737375"/>
<rect x="643.0" y="272" width="5" height="1" fill="#225437"/>
<rect x="651.0" y="227" width="1" height="56" fill="#737375"/>
<rect x="649.0" y="252" width="5" height="20" fill="#225437"/>
<rect x="650.0" y="253" width="3" height="18" fill="#6ba583"/>
<rect x="658.0" y="228" width="1" height="41" fill="#737375"/>
<rect x="656.0" y="233" width="5" height="19" fill="#225437"/>
<rect x="657.0" y="234" width="3" height="17" fill="#6ba583"/>
<rect x="664.0" y="230" width="1" height="54" fill="#737375"/>
<rect x="662.0" y="233" width="5" height="21" fill="#5b1a13"/>
<rect x="663.0" y="234" width="3" height="19" fill="#d75442"/>
<rect x="670.0" y="232" width="1" height="37" fill="#737375"/>
<rect x="668.0" y="254" width="5" height="14" fill="#5b1a13"/>
<rect x="669.0" y="255" width="3" height="12" fill="#d75442"/>
<rect x="677.0" y="212" width="1" height="81" fill="#737375"/>
<rect x="675.0" y="267" width="5" height="24" fill="#5b1a13"/>
<rect x="676.0" y="268" width="3" height="22" fill="#d75442"/>
<rect x="683.0" y="256" width="1" height="39" fill="#737375"/>
<rect x="681.0" y="280" width="5" height="11" fill="#225437"/>
<rect x="682.0" y="281" width="3" height="9" fill="#6ba583"/>
<rect x="689.0" y="269" width="1" height="52" fill="#737375"/>
<rect x="687.0" y="280" width="5" height="6" fill="#5b1a13"/>
<rect x="688.0" y="281" width="3" height="4" fill="#d75442"/>
<rect x="696.0" y="248" width="1" height="42" fill="#737375"/>
<rect x="694.0" y="278" width="5" height="9" fill="#225437"/>
<rect x="695.0" y="279" width="3" height="7" fill="#6ba583"/>
<rect x="702.0" y="241" width="1" height="43" fill="#737375"/>
<rect x="700.0" y="262" width="5" height="17" fill="#225437"/>
<rect x="701.0" y="263" width="3" height="15" fill="#6ba583"/>
<rect x="708.0" y="229" width="1" height="46" fill="#737375"/>
<rect x="706.0" y="253" width="5" height="8" fill="#225437"/>
<rect x="707.0" y="254" width="3" height="6" fill="#6ba583"/>
<rect x="715.0" y="241" width="1" height="42" fill="#737375"/>
<rect x="713.0" y="253" width="5" height="8" fill="#5b1a13"/>
<rect x="714.0" y="254" width="3" height="6" fill="#d75442"/>
<rect x="721.0" y="240" width="1" height="30" fill="#737375"/>
<rect x="719.0" y="248" width="5" height="11" fill="#225437"/>
<rect x="720.0" y="249" width="3" height="9" fill="#6ba583"/>
<rect x="727.0" y="222" width="1" height="44" fill="#737375"/>
<rect x="725.0" y="246" width="5" height="18" fill="#5b1a13"/>
<rect x="726.0" y="247" width="3" height="16" fill="#d75442"/>
<rect x="734.0" y="241" width="1" height="82" fill="#737375"/>
<rect x="732.0" y="263" width="5" height="5" fill="#5b1a13"/>
<rect x="733.0" y="264" width="3" height="3" fill="#d75442"/>
<rect x="740.0" y="262" width="1" height="74" fill="#737375"/>
<rect x="738.0" y="267" width="5" height="63" fill="#5b1a13"/>
<rect x="739.0" y="268" width="3" height="61" fill="#d75442"/>
<rect x="746.0" y="302" width="1" height="56" fill="#737375"/>
<rect x="744.0" y="329" width="5" height="17" fill="#5b1a13"/>
<rect x="745.0" y="330" width="3" height="15" fill="#d75442"/>
<rect x="753.0" y="325" width="1" height="24" fill="#737375"/>
<rect x="751.0" y="332" width="5" height="13" fill="#225437"/>
<rect x="752.0" y="333" width="3" height="11" fill="#6ba583"/>
<rect x="759.0" y="301" width="1" height="49" fill="#737375"/>
<rect x="757.0" y="307" width="5" height="25" fill="#225437"/>
<rect x="758.0" y="308" width="3" height="23" fill="#6ba583"/>
<rect x="765.0" y="252" width="1" height="68" fill="#737375"/>
<rect x="763.0" y="267" width="5" height="41" fill="#225437"/>
<rect x="764.0" y="268" width="3" height="39" fill="#6ba583"/>
<rect x="772.0" y="258" width="1" height="43" fill="#737375"/>
<rect x="770.0" y="267" width="5" height="27" fill="#5b1a13"/>
<rect x="771.0" y="268" width="3" height="25" fill="#d75442"/>
<rect x="778.0" y="270" width="1" height="73" fill="#737375"/>
<rect x="776.0" y="292" width="5" height="47" fill="#5b1a13"/>
<rect x="777.0" y="293" width="3" height="45" fill="#d75442"/>
<rect x="784.0" y="308" width="1" height="31" fill="#737375"/>
<rect x="782.0" y="317" width="5" height="22" fill="#225437"/>
<rect x="783.0" y="318" width="3" height="20" fill="#6ba583"/>
<rect x="791.0" y="314" width="1" height="56" fill="#737375"/>
<rect x="789.0" y="316" width="5" height="34" fill="#5b1a13"/>
<rect x="790.0" y="317" width="3" height="32" fill="#d75442"/>
<rect x="797.0" y="338" width="1" height="57" fill="#737375"/>
<rect x="795.0" y="351" width="5" height="33" fill="#5b1a13"/>
<rect x="796.0" y="352" width="3" height="31" fill="#d75442"/>
<rect x="804.0" y="381" width="1" height="34" fill="#737375"/>
<rect x="802.0" y="383" width="5" height="22" fill="#5b1a13"/>
<rect x="803.0" y="384" width="3" height="20" fill="#d75442"/>
<rect x="810.0" y="378" width="1" height="33" fill="#737375"/>
<rect x="808.0" y="401" width="5" height="4" fill="#5b1a13"/>
<rect x="809.0" y="402" width="3" height="2" fill="#d75442"/>
<rect x="816.0" y="359" width="1" height="47" fill="#737375"/>
<rect x="814.0" y="379" width="5" height="27" fill="#225437"/>
<rect x="815.0" y="380" width="3" height="25" fill="#6ba583"/>
<rect x="823.0" y="369" width="1" height="38" fill="#737375"/>
<rect x="821.0" y="380" width="5" height="13" fill="#5b1a13"/>
<rect x="822.0" y="381" width="3" height="11" fill="#d75442"/>
<rect x="829.0" y="379" width="1" height="42" fill="#737375"/>
<rect x="827.0" y="391" width="5" height="1" fill="#225437"/>
<rect x="835.0" y="382" width="1" height="59" fill="#737375"/>
<rect x="833.0" y="392" width="5" height="45" fill="#5b1a13"/>
<rect x="834.0" y="393" width="3" height="43" fill="#d75442"/>
<rect x="842.0" y="415" width="1" height="36" fill="#737375"/>
<rect x="840.0" y="436" width="5" height="15" fill="#5b1a13"/>
<rect x="841.0" y="437" width="3" height="13" fill="#d75442"/>
<rect x="848.0" y="434" width="1" height="21" fill="#737375"/>
<rect x="846.0" y="446" width="5" height="3" fill="#5b1a13"/>
<rect x="847.0" y="447" width="3" height="1" fill="#d75442"/>
<rect x="854.0" y="426" width="1" height="30" fill="#737375"/>
<rect x="852.0" y="446" width="5" height="3" fill="#225437"/>
<rect x="853.0" y="447" width="3" height="1" fill="#6ba583"/>
<rect x="861.0" y="428" width="1" height="49" fill="#737375"/>
<rect x="859.0" y="445" width="5" height="26" fill="#5b1a13"/>
<rect x="860.0" y="446" width="3" height="24" fill="#d75442"/>
<rect x="867.0" y="469" width="1" height="60" fill="#737375"/>
<rect x="865.0" y="471" width="5" height="29" fill="#5b1a13"/>
<rect x="866.0" y="472" width="3" height="27" fill="#d75442"/>
<rect x="873.0" y="497" width="1" height="34" fill="#737375"/>
<rect x="871.0" y="498" width="5" height="30" fill="#5b1a13"/>
<rect x="872.0" y="499" width="3" height="28" fill="#d75442"/>
<rect x="880.0" y="519" width="1" height="32" fill="#737375"/>
<rect x="878.0" y="528" width="5" height="16" fill="#5b1a13"/>
<rect x="879.0" y="529" width="3" height="14" fill="#d75442"/>
<rect x="886.0" y="539" width="1" height="35" fill="#737375"/>
<rect x="884.0" y="543" width="5" height="31" fill="#5b1a13"/>
<rect x="885.0" y="544" width="3" height="29" fill="#d75442"/>
<rect x="892.0" y="568" width="1" height="29" fill="#737375"/>
<rect x="890.0" y="573" width="5" height="11" fill="#5b1a13"/>
<rect x="891.0" y="574" width="3" height="9" fill="#d75442"/>
<rect x="899.0" y="535" width="1" height="57" fill="#737375"/>
<rect x="897.0" y="548" width="5" height="35" fill="#225437"/>
<rect x="898.0" y="549" width="3" height="33" fill="#6ba583"/>
<rect x="905.0" y="509" width="1" height="49" fill="#737375"/>
<rect x="903.0" y="548" width="5" height="2" fill="#5b1a13"/>
<rect x="911.0" y="537" width="1" height="75" fill="#737375"/>
<rect x="909.0" y="550" width="5" height="62" fill="#5b1a13"/>
<rect x="910.0" y="551" width="3" height="60" fill="#d75442"/>
<rect x="918.0" y="601" width="1" height="27" fill="#737375"/>
<rect x="916.0" y="611" width="5" height="6" fill="#5b1a13"/>
<rect x="917.0" y="612" width="3" height="4" fill="#d75442"/>
<rect x="924.0" y="561" width="1" height="75" fill="#737375"/>
<rect x="922.0" y="582" width="5" height="35" fill="#225437"/>
<rect x="923.0" y="583" width="3" height="33" fill="#6ba583"/>
<rect x="930.0" y="550" width="1" height="48" fill="#737375"/>
<rect x="928.0" y="553" width="5" height="32" fill="#225437"/>
<rect x="929.0" y="554" width="3" height="30" fill="#6ba583"/>
<rect x="937.0" y="515" width="1" height="84" fill="#737375"/>
<rect x="935.0" y="528" width="5" height="26" fill="#225437"/>
<rect x="936.0" y="529" width="3" height="24" fill="#6ba583"/>
<rect x="943.0" y="524" width="1" height="44" fill="#737375"/>
<rect x="941.0" y="528" width="5" height="2" fill="#5b1a13"/>
<rect x="949.0" y="498" width="1" height="44" fill="#737375"/>
<rect x="947.0" y="505" width="5" height="24" fill="#225437"/>
<rect x="948.0" y="506" width="3" height="22" fill="#6ba583"/>
<rect x="956.0" y="473" width="1" height="37" fill="#737375"/>
<rect x="954.0" y="488" width="5" height="19" fill="#225437"/>
<rect x="955.0" y="489" width="3" height="17" fill="#6ba583"/>
<rect x="962.0" y="477" width="1" height="85" fill="#737375"/>
<rect x="960.0" y="490" width="5" height="72" fill="#5b1a13"/>
<rect x="961.0" y="491" width="3" height="70" fill="#d75442"/>
<rect x="968.0" y="535" width="1" height="55" fill="#737375"/>
<rect x="966.0" y="561" width="5" height="22" fill="#5b1a13"/>
<rect x="967.0" y="562" width="3" height="20" fill="#d75442"/>
<rect x="975.0" y="538" width="1" height="44" fill="#737375"/>
<rect x="973.0" y="542" width="5" height="39" fill="#225437"/>
<rect x="974.0" y="543" width="3" height="37" fill="#6ba583"/>
<rect x="981.0" y="539" width="1" height="46" fill="#737375"/>
<rect x="979.0" y="544" width="5" height="16" fill="#5b1a13"/>
<rect x="980.0" y="545" width="3" height="14" fill="#d75442"/>
<rect x="987.0" y="542" width="1" height="40" fill="#737375"/>
<rect x="985.0" y="557" width="5" height="25" fill="#5b1a13"/>
<rect x="986.0" y="558" width="3" height="23" fill="#d75442"/>
<rect x="994.0" y="553" width="1" height="55" fill="#737375"/>
<rect x="992.0" y="580" width="5" height="1" fill="#225437"/>
<rect x="1000.0" y="564" width="1" height="42" fill="#737375"/>
<rect x="998.0" y="570" width="5" height="11" fill="#225437"/>
<rect x="999.0" y="571" width="3" height="9" fill="#6ba583"/>
<rect x="1006.0" y="516" width="1" height="62" fill="#737375"/>
<rect x="1004.0" y="524" width="5" height="47" fill="#225437"/>
<rect x="1005.0" y="525" width="3" height="45" fill="#6ba583"/>
<rect x="1013.0" y="500" width="1" height="72" fill="#737375"/>
<rect x="1011.0" y="524" width="5" height="46" fill="#5b1a13"/>
<rect x="1012.0" y="525" width="3" height="44" fill="#d75442"/>
<rect x="1019.0" y="562" width="1" height="37" fill="#737375"/>
<rect x="1017.0" y="570" width="5" height="29" fill="#5b1a13"/>
<rect x="1018.0" y="571" width="3" height="27" fill="#d75442"/>
<rect x="1025.0" y="581" width="1" height="38" fill="#737375"/>
<rect x="1023.0" y="588" width="5" height="11" fill="#225437"/>
<rect x="1024.0" y="589" width="3" height="9" fill="#6ba583"/>
<rect x="1032.0" y="568" width="1" height="31" fill="#737375"/>
<rect x="1030.0" y="588" width="5" height="4" fill="#5b1a13"/>
<rect x="1031.0" y="589" width="3" height="2" fill="#d75442"/>
<rect x="1038.0" y="562" width="1" height="46" fill="#737375"/>
<rect x="1036.0" y="568" width="5" height="19" fill="#225437"/>
<rect x="1037.0" y="569" width="3" height="17" fill="#6ba583"/>
<rect x="1044.0" y="548" width="1" height="44" fill="#737375"/>
<rect x="1042.0" y="567" width="5" height="12" fill="#5b1a13"/>
<rect x="1043.0" y="568" width="3" height="10" fill="#d75442"/>
<rect x="1051.0" y="568" width="1" height="37" fill="#737375"/>
<rect x="1049.0" y="575" width="5" height="1" fill="#225437"/>
<rect x="1057.0" y="535" width="1" height="42" fill="#737375"/>
<rect x="1055.0" y="547" width="5" height="30" fill="#225437"/>
<rect x="1056.0" y="548" width="3" height="28" fill="#6ba583"/>
<rect x="1063.0" y="445" width="1" height="111" fill="#737375"/>
<rect x="1061.0" y="453" width="5" height="96" fill="#225437"/>
<rect x="1062.0" y="454" width="3" height="94" fill="#6ba583"/>
<rect x="1070.0" y="424" width="1" height="49" fill="#737375"/>
<rect x="1068.0" y="453" width="5" height="17" fill="#5b1a13"/>
<rect x="1069.0" y="454" width="3" height="15" fill="#d75442"/>
<rect x="1076.0" y="468" width="1" height="46" fill="#737375"/>
<rect x="1074.0" y="471" width="5" height="24" fill="#5b1a13"/>
<rect x="1075.0" y="472" width="3" height="22" fill="#d75442"/>
<rect x="1082.0" y="494" width="1" height="30" fill="#737375"/>
<rect x="1080.0" y="496" width="5" height="9" fill="#5b1a13"/>
<rect x="1081.0" y="497" width="3" height="7" fill="#d75442"/>
<rect x="1089.0" y="489" width="1" height="51" fill="#737375"/>
<rect x="1087.0" y="503" width="5" height="36" fill="#5b1a13"/>
<rect x="1088.0" y="504" width="3" height="34" fill="#d75442"/>
<rect x="1095.0" y="528" width="1" height="27" fill="#737375"/>
<rect x="1093.0" y="535" width="5" height="1" fill="#225437"/>
<rect x="1101.0" y="505" width="1" height="33" fill="#737375"/>
<rect x="1099.0" y="507" width="5" height="30" fill="#225437"/>
<rect x="1100.0" y="508" width="3" height="28" fill="#6ba583"/>
<rect x="1108.0" y="382" width="1" height="130" fill="#737375"/>
<rect x="1106.0" y="388" width="5" height="118" fill="#225437"/>
<rect x="1107.0" y="389" width="3" height="116" fill="#6ba583"/>
<rect x="1114.0" y="385" width="1" height="51" fill="#737375"/>
<rect x="1112.0" y="386" width="5" height="45" fill="#5b1a13"/>
<rect x="1113.0" y="387" width="3" height="43" fill="#d75442"/>
<rect x="1121.0" y="409" width="1" height="43" fill="#737375"/>
<rect x="1119.0" y="430" width="5" height="4" fill="#5b1a13"/>
<rect x="1120.0" y="431" width="3" height="2" fill="#d75442"/>
<rect x="1127.0" y="404" width="1" height="50" fill="#737375"/>
<rect x="1125.0" y="409" width="5" height="24" fill="#225437"/>
<rect x="1126.0" y="410" width="3" height="22" fill="#6ba583"/>
<rect x="1133.0" y="376" width="1" height="39" fill="#737375"/>
<rect x="1131.0" y="385" width="5" height="22" fill="#225437"/>
<rect x="1132.0" y="386" width="3" height="20" fill="#6ba583"/>
<rect x="1140.0" y="353" width="1" height="31" fill="#737375"/>
<rect x="1138.0" y="365" width="5" height="18" fill="#225437"/>
<rect x="1139.0" y="366" width="3" height="16" fill="#6ba583"/>
<rect x="1146.0" y="359" width="1" height="53" fill="#737375"/>
<rect x="1144.0" y="365" width="5" height="26" fill="#5b1a13"/>
<rect x="1145.0" y="366" width="3" height="24" fill="#d75442"/>
<rect x="1152.0" y="347" width="1" height="45" fill="#737375"/>
<rect x="1150.0" y="368" width="5" height="24" fill="#225437"/>
<rect x="1151.0" y="369" width="3" height="22" fill="#6ba583"/>
<rect x="1159.0" y="323" width="1" height="49" fill="#737375"/>
<rect x="1157.0" y="330" width="5" height="37" fill="#225437"/>
<rect x="1158.0" y="331" width="3" height="35" fill="#6ba583"/>
<rect x="1165.0" y="307" width="1" height="29" fill="#737375"/>
<rect x="1163.0" y="317" width="5" height="13" fill="#225437"/>
<rect x="1164.0" y="318" width="3" height="11" fill="#6ba583"/>
<rect x="1171.0" y="269" width="1" height="57" fill="#737375"/>
<rect x="1169.0" y="281" width="5" height="38" fill="#225437"/>
<rect x="1170.0" y="282" width="3" height="36" fill="#6ba583"/>
<rect x="1178.0" y="259" width="1" height="36" fill="#737375"/>
<rect x="1176.0" y="279" width="5" height="1" fill="#225437"/>
<rect x="1184.0" y="271" width="1" height="58" fill="#737375"/>
<rect x="1182.0" y="282" width="5" height="38" fill="#5b1a13"/>
<rect x="1183.0" y="283" width="3" height="36" fill="#d75442"/>
<rect x="1190.0" y="268" width="1" height="55" fill="#737375"/>
<rect x="1188.0" y="271" width="5" height="49" fill="#225437"/>
<rect x="1189.0" y="272" width="3" height="47" fill="#6ba583"/>
<rect x="1197.0" y="263" width="1" height="66" fill="#737375"/>
<rect x="1195.0" y="277" width="5" height="37" fill="#5b1a13"/>
<rect x="1196.0" y="278" width="3" height="35" fill="#d75442"/>
<rect x="1203.0" y="303" width="1" height="39" fill="#737375"/>
<rect x="1201.0" y="314" width="5" height="22" fill="#5b1a13"/>
<rect x="1202.0" y="315" width="3" height="20" fill="#d75442"/>
<rect x="1209.0" y="323" width="1" height="34" fill="#737375"/>
<rect x="1207.0" y="334" width="5" height="21" fill="#5b1a13"/>
<rect x="1208.0" y="335" width="3" height="19" fill="#d75442"/>
<rect x="1216.0" y="324" width="1" height="36" fill="#737375"/>
<rect x="1214.0" y="335" width="5" height="21" fill="#225437"/>
<rect x="1215.0" y="336" width="3" height="19" fill="#6ba583"/>
<rect x="1222.0" y="330" width="1" height="54" fill="#737375"/>
<rect x="1220.0" y="335" width="5" height="27" fill="#5b1a13"/>
<rect x="1221.0" y="336" width="3" height="25" fill="#d75442"/>
<rect x="1228.0" y="336" width="1" height="30" fill="#737375"/>
<rect x="1226.0" y="357" width="5" height="4" fill="#225437"/>
<rect x="1227.0" y="358" width="3" height="2" fill="#6ba583"/>
<rect x="1235.0" y="322" width="1" height="55" fill="#737375"/>
<rect x="1233.0" y="353" width="5" height="3" fill="#225437"/>
<rect x="1234.0" y="354" width="3" height="1" fill="#6ba583"/>
<rect x="1241.0" y="312" width="1" height="73" fill="#737375"/>
<rect x="1239.0" y="323" width="5" height="31" fill="#225437"/>
<rect x="1240.0" y="324" width="3" height="29" fill="#6ba583"/>
<rect x="1247.0" y="226" width="1" height="99" fill="#737375"/>
<rect x="1245.0" y="241" width="5" height="84" fill="#225437"/>
<rect x="1246.0" y="242" width="3" height="82" fill="#6ba583"/>
<rect x="1254.0" y="227" width="1" height="67" fill="#737375"/>
<rect x="1252.0" y="242" width="5" height="50" fill="#5b1a13"/>
<rect x="1253.0" y="243" width="3" height="48" fill="#d75442"/>
<rect x="1260.0" y="275" width="1" height="40" fill="#737375"/>
<rect x="1258.0" y="290" width="5" height="18" fill="#5b1a13"/>
<rect x="1259.0" y="291" width="3" height="16" fill="#d75442"/>
<rect x="1266.0" y="243" width="1" height="65" fill="#737375"/>
<rect x="1264.0" y="260" width="5" height="46" fill="#225437"/>
<rect x="1265.0" y="261" width="3" height="44" fill="#6ba583"/>
<rect x="1273.0" y="258" width="1" height="59" fill="#737375"/>
<rect x="1271.0" y="260" width="5" height="52" fill="#5b1a13"/>
<rect x="1272.0" y="261" width="3" height="50" fill="#d75442"/>
<rect x="1279.0" y="279" width="1" height="45" fill="#737375"/>
<rect x="1277.0" y="285" width="5" height="27" fill="#225437"/>
<rect x="1278.0" y="286" width="3" height="25" fill="#6ba583"/>
<rect x="1285.0" y="253" width="1" height="35" fill="#737375"/>
<rect x="1283.0" y="281" width="5" height="4" fill="#225437"/>
<rect x="1284.0" y="282" width="3" height="2" fill="#6ba583"/>
<rect x="1292.0" y="269" width="1" height="17" fill="#737375"/>
<rect x="1290.0" y="277" width="5" height="9" fill="#5b1a13"/>
<rect x="1291.0" y="278" width="3" height="7" fill="#d75442"/>
<rect x="1298.0" y="260" width="1" height="25" fill="#737375"/>
<rect x="1296.0" y="265" width="5" height="20" fill="#225437"/>
<rect x="1297.0" y="266" width="3" height="18" fill="#6ba583"/>
<rect x="1304.0" y="221" width="1" height="56" fill="#737375"/>
<rect x="1302.0" y="224" width="5" height="41" fill="#225437"/>
<rect x="1303.0" y="225" width="3" height="39" fill="#6ba583"/>
<rect x="1311.0" y="207" width="1" height="63" fill="#737375"/>
<rect x="1309.0" y="225" width="5" height="36" fill="#5b1a13"/>
<rect x="1310.0" y="226" width="3" height="34" fill="#d75442"/>
<rect x="1317.0" y="237" width="1" height="39" fill="#737375"/>
<rect x="1315.0" y="260" width="5" height="1" fill="#5b1a13"/>
<rect x="1323.0" y="260" width="1" height="7" fill="#737375"/>
<rect x="1321.0" y="261" width="5" height="4" fill="#5b1a13"/>
<rect x="1322.0" y="262" width="3" height="2" fill="#d75442"/>
<rect x="1330.0" y="244" width="1" height="81" fill="#737375"/>
<rect x="1328.0" y="264" width="5" height="59" fill="#5b1a13"/>
<rect x="1329.0" y="265" width="3" height="57" fill="#d75442"/>
<rect x="1336.0" y="289" width="1" height="34" fill="#737375"/>
<rect x="1334.0" y="297" width="5" height="26" fill="#225437"/>
<rect x="1335.0" y="298" width="3" height="24" fill="#6ba583"/>
<rect x="1342.0" y="260" width="1" height="40" fill="#737375"/>
<rect x="1340.0" y="287" width="5" height="10" fill="#225437"/>
<rect x="1341.0" y="288" width="3" height="8" fill="#6ba583"/>
<rect x="1349.0" y="238" width="1" height="86" fill="#737375"/>
<rect x="1347.0" y="267" width="5" height="22" fill="#225437"/>
<rect x="1348.0" y="268" width="3" height="20" fill="#6ba583"/>
<rect x="1355.0" y="240" width="1" height="51" fill="#737375"/>
<rect x="1353.0" y="251" width="5" height="18" fill="#225437"/>
<rect x="1354.0" y="252" width="3" height="16" fill="#6ba583"/>
<rect x="1361.0" y="241" width="1" height="31" fill="#737375"/>
<rect x="1359.0" y="252" width="5" height="20" fill="#5b1a13"/>
<rect x="1360.0" y="253" width="3" height="18" fill="#d75442"/>
</g>
<line x1="3" y1="271.5" x2="1428.5" y2="271.5" stroke="#d75442" stroke-width="1" stroke-dasharray="1 2" shape-rendering="crispEdges"/>
</g>
<g clip-path="url(#ca)">
<polyline points="3.6,687.6 24.0,691.2 48.0,693.6 72.0,698.5 89.0,696.5 108.0,698.9 125.0,700.9 137.0,702.8 144.6,701.3 168.7,704.5 180.7,706.2 200.0,704.5 216.9,704.5 226.5,703.8 241.0,706.2 255.4,708.6 265.0,706.9 289.2,706.9 301.2,706.2 318.0,708.1 325.3,707.4 339.8,710.0 351.8,708.6 359.6,706.9 378.9,707.4 391.0,705.7 398.2,707.1 415.1,705.2 423.5,702.8 439.2,705.0 454.8,703.3 474.1,707.4 481.3,705.2 487.3,706.2 493.4,705.0 511.9,709.1 530.7,706.4 544.0,706.4 550.0,704.0 564.5,707.4 569.3,706.9 576.5,703.3 582.5,702.6 606.6,704.0 612.7,699.7 619.9,698.9 627.1,701.3 639.2,700.4 651.2,700.4 670.5,702.6 676.5,700.9 687.3,702.1 700.0,703.3 712.0,704.5 726.5,706.9 738.6,702.8 745.8,702.3 755.4,705.0 765.1,703.3 772.3,704.0 778.3,702.6 784.3,704.5 796.4,704.0 810.8,706.4 827.7,708.1 836.1,707.4 854.2,711.0 866.3,709.8 878.3,711.2 892.8,713.4 904.8,712.2 910.8,710.0 918.1,711.5 924.1,709.3 930.1,709.1 937.3,706.4 955.4,708.1 962.7,705.7 972.3,705.4 986.7,706.9 1001.2,707.4 1013.3,704.7 1032.5,707.6 1047.0,708.6 1056.9,709.3 1062.9,705.0 1073.7,705.4 1082.2,706.9 1088.2,706.7 1100.2,709.1 1108.0,703.3 1114.7,703.3 1126.7,704.5 1138.8,706.7 1158.1,706.7 1165.3,708.1 1171.3,707.4 1178.6,708.1 1190.6,706.9 1196.6,706.2 1213.5,708.6 1223.1,708.1 1229.2,709.3 1235.2,708.8 1241.2,707.4 1247.2,704.0 1253.3,702.8 1260.5,703.5 1272.5,702.3 1281.0,703.3 1290.6,706.2 1297.8,708.6 1309.9,706.9 1317.1,707.6 1323.1,710.5 1330.4,708.1 1336.4,709.1 1342.4,709.5 1349.6,706.9 1354.5,706.7 1360.5,708.1" fill="none" stroke="#b71c1c" stroke-width="1" stroke-linejoin="round" stroke-linecap="round" />
</g>
<g clip-path="url(#cc)">
<polyline points="3.6,745.4 5.3,749.1 10.8,749.1 16.9,740.6 22.9,735.8 28.9,738.9 36.1,738.2 42.2,738.2 49.4,746.7 55.4,746.2 62.2,743.5 69.9,745.4 77.1,744.7 86.7,746.2 94.0,739.9 100.0,740.6 108.4,745.4 119.3,751.5 130.1,747.1 137.8,741.3 144.6,750.3 151.1,758.7 163.9,753.9 169.9,754.4 175.9,758.7 181.9,750.3 188.4,757.0 194.7,751.0 201.2,747.1 208.0,732.2 214.5,739.9 219.8,754.4 226.5,735.1 232.5,732.2 239.0,730.3 245.8,733.4 251.8,741.1 257.8,740.6 271.1,765.2 277.1,762.3 283.1,763.5 295.9,776.3 308.4,774.4 314.5,779.2 321.7,780.4 327.7,786.4 333.7,781.6 341.0,778.7 347.0,771.9 353.6,769.5 360.1,759.2 366.1,759.4 372.2,767.6 378.9,765.4 384.9,759.2 391.0,741.1 398.2,733.4 403.7,741.8 410.2,734.6 417.5,729.8 423.5,727.9 429.0,727.9 442.3,741.8 448.8,744.7 454.8,746.2 461.3,751.0 468.1,752.2 474.1,752.0 480.6,758.2 486.9,762.3 493.4,758.2 499.4,757.5 505.9,756.3 511.9,757.5 518.0,755.1 524.7,743.8 531.2,740.1 537.2,728.6 544.0,726.2 550.0,721.3 556.5,729.1 562.8,737.0 569.3,742.6 575.3,752.2 581.3,755.8 587.8,759.4 594.1,762.3 600.6,759.9 606.6,755.8 613.1,763.0 619.4,766.4 625.9,766.4 632.4,773.6 638.7,779.7 644.7,784.5 651.2,777.5 658.0,774.4 664.0,775.6 670.5,774.4 676.5,774.8 682.5,776.3 688.6,778.5 695.8,773.2 701.8,769.5 707.2,766.4 714.5,768.3 720.5,765.2 727.0,763.0 733.7,774.4 739.8,788.8 746.3,797.3 753.0,791.7 759.0,781.1 765.1,762.3 771.8,764.7 777.6,777.3 783.9,776.8 797.6,787.6 803.6,790.0 810.1,784.7 816.4,778.0 828.9,778.0 834.9,780.9 842.2,782.3 848.2,781.1 854.2,778.5 860.7,780.4 867.0,785.4 879.5,785.9 892.0,785.4 904.8,775.1 911.3,779.9 918.1,781.1 930.1,771.2 937.3,767.6 942.9,765.9 955.9,754.4 968.0,770.3 975.2,765.2 980.7,766.4 986.7,768.3 994.0,771.9 1000.0,771.2 1006.0,752.2 1012.8,756.3 1019.3,773.9 1025.3,776.3 1032.5,771.2 1038.1,768.3 1044.1,766.7 1050.8,771.9 1056.9,757.5 1062.9,731.7 1069.6,728.6 1076.1,741.8 1082.2,746.7 1094.9,757.5 1101.0,751.0 1108.0,731.5 1114.0,735.1 1121.2,741.1 1126.7,742.1 1133.3,739.9 1139.5,739.4 1146.0,744.5 1152.0,743.8 1158.8,742.1 1165.3,740.9 1171.3,739.2 1177.8,739.2 1184.1,745.0 1190.6,744.2 1196.6,747.9 1202.7,751.9 1208.7,755.6 1215.9,755.8 1221.9,760.6 1235.2,761.6 1241.2,759.4 1247.2,738.5 1254.0,742.3 1259.8,752.4 1266.0,745.4 1272.5,754.1 1278.6,755.3 1285.1,748.3 1291.8,751.2 1297.8,748.6 1304.3,739.7 1311.1,743.5 1317.1,748.3 1323.1,751.5 1329.9,761.6 1335.9,764.5 1342.4,758.2 1349.2,757.3 1355.2,751.2 1360.5,752.2" fill="none" stroke="#2962ff" stroke-width="1" stroke-linejoin="round" stroke-linecap="round" />
</g>
<g stroke="#4a4c55" stroke-width="1" shape-rendering="crispEdges">
<line x1="1428.5" y1="2" x2="1428.5" y2="831"/>
<line x1="3" y1="803.5" x2="1492" y2="803.5"/>
</g>
<g font-size="12" fill="#50535e">
<text x="1436.5" y="63.9" textLength="35.5" lengthAdjust="spacingAndGlyphs">1.3100</text>
<text x="1436.5" y="118.2" textLength="35.5" lengthAdjust="spacingAndGlyphs">1.3000</text>
<text x="1436.5" y="172.5" textLength="35.5" lengthAdjust="spacingAndGlyphs">1.2900</text>
<text x="1436.5" y="226.8" textLength="35.5" lengthAdjust="spacingAndGlyphs">1.2800</text>
<text x="1436.5" y="281.1" textLength="35.5" lengthAdjust="spacingAndGlyphs">1.2700</text>
<text x="1436.5" y="335.4" textLength="35.5" lengthAdjust="spacingAndGlyphs">1.2600</text>
<text x="1436.5" y="389.7" textLength="35.5" lengthAdjust="spacingAndGlyphs">1.2500</text>
<text x="1436.5" y="444.0" textLength="35.5" lengthAdjust="spacingAndGlyphs">1.2400</text>
<text x="1436.5" y="498.3" textLength="35.5" lengthAdjust="spacingAndGlyphs">1.2300</text>
<text x="1436.5" y="552.6" textLength="35.5" lengthAdjust="spacingAndGlyphs">1.2200</text>
<text x="1436.5" y="606.9" textLength="35.5" lengthAdjust="spacingAndGlyphs">1.2100</text>
<text x="1436.5" y="661.2" textLength="35.5" lengthAdjust="spacingAndGlyphs">1.2000</text>
<text x="1436.5" y="706.8" textLength="35.5" lengthAdjust="spacingAndGlyphs">0.0100</text>
<text x="1436.5" y="736" textLength="35.5" lengthAdjust="spacingAndGlyphs">200.00</text>
<text x="1436.5" y="766" textLength="23" lengthAdjust="spacingAndGlyphs">0.00</text>
<text x="1436.5" y="796" textLength="42" lengthAdjust="spacingAndGlyphs">−200.00</text>
</g>
<clipPath id="c3"><rect x="1429" y="36" width="60" height="20"/></clipPath><g clip-path="url(#c3)">
<path d="M1429 28.9 H1475 a2 2 0 0 1 2 2 V43.4 a2 2 0 0 1 -2 2 H1429 Z" fill="#000000"/>
<text x="1436.5" y="41.3" font-size="12" font-weight="bold" fill="#ffffff" textLength="35.5" lengthAdjust="spacingAndGlyphs">1.3143</text>
</g>
<path d="M1429 246.4 H1475 a2 2 0 0 1 2 2 V260.9 a2 2 0 0 1 -2 2 H1429 Z" fill="#000000"/>
<text x="1436.5" y="258.8" font-size="12" font-weight="bold" fill="#ffffff" textLength="35.5" lengthAdjust="spacingAndGlyphs">1.2742</text>
<path d="M1429 287.3 H1475 a2 2 0 0 1 2 2 V301.8 a2 2 0 0 1 -2 2 H1429 Z" fill="#000000"/>
<text x="1436.5" y="299.7" font-size="12" font-weight="bold" fill="#ffffff" textLength="35.5" lengthAdjust="spacingAndGlyphs">1.2667</text>
<path d="M1429 352.4 H1475 a2 2 0 0 1 2 2 V366.9 a2 2 0 0 1 -2 2 H1429 Z" fill="#000000"/>
<text x="1436.5" y="364.8" font-size="12" font-weight="bold" fill="#ffffff" textLength="35.5" lengthAdjust="spacingAndGlyphs">1.2547</text>
<path d="M1429 444.3 H1475 a2 2 0 0 1 2 2 V458.8 a2 2 0 0 1 -2 2 H1429 Z" fill="#000000"/>
<text x="1436.5" y="456.7" font-size="12" font-weight="bold" fill="#ffffff" textLength="35.5" lengthAdjust="spacingAndGlyphs">1.2377</text>
<path d="M1429 484.5 H1475 a2 2 0 0 1 2 2 V499.0 a2 2 0 0 1 -2 2 H1429 Z" fill="#000000"/>
<text x="1436.5" y="496.9" font-size="12" font-weight="bold" fill="#ffffff" textLength="35.5" lengthAdjust="spacingAndGlyphs">1.2303</text>
<path d="M1429 263.3 H1486 a2 2 0 0 1 2 2 V277.8 a2 2 0 0 1 -2 2 H1429 Z" fill="#d75442"/>
<text x="1436.5" y="275.7" font-size="12" font-weight="bold" fill="#f9dcd8" textLength="47" lengthAdjust="spacingAndGlyphs">10:19:59</text>
<rect x="1432.5" y="6.5" width="55" height="25" rx="4" fill="#ffffff" stroke="#e0e3eb"/>
<text x="1436.5" y="23" font-size="12" fill="#131722" textLength="21" lengthAdjust="spacingAndGlyphs">USD</text>
<path d="M1478 17.5 l2.5 2.5 l2.5 -2.5" fill="none" stroke="#131722" stroke-width="1.3"/>
<g font-size="12" fill="#50535e" text-anchor="middle">
<text x="87.5" y="821">Apr</text>
<text x="214.5" y="821">May</text>
<text x="360.5" y="821">Jun</text>
<text x="499.5" y="821">Jul</text>
<text x="632.5" y="821">Aug</text>
<text x="778.5" y="821">Sep</text>
<text x="911.5" y="821">Oct</text>
<text x="1051.5" y="821">Nov</text>
<text x="1190.5" y="821">Dec</text>
<text x="1418.5" y="821">22</text>
<text x="1323.5" y="821" font-weight="bold">2024</text>
</g>
<g fill="none" stroke="#131722" stroke-width="1.2"><path d="M1457.5 811.5 h7 l3.5 6 l-3.5 6 h-7 l-3.5 -6 z"/><circle cx="1461" cy="817.5" r="2"/></g>
<rect x="3" y="37" width="144" height="24" fill="#ffffff" fill-opacity="0.5"/><rect x="11" y="34" width="136" height="3" fill="#ffffff" fill-opacity="0.5"/>
<rect x="7" y="61.5" width="542" height="24.5" fill="#ffffff" fill-opacity="0.5"/>
<defs><clipPath id="us"><circle cx="24" cy="14.9" r="6.05"/></clipPath><clipPath id="uk"><circle cx="17.95" cy="21" r="6.05"/></clipPath></defs>
<g clip-path="url(#us)"><rect x="17" y="8" width="14" height="14" fill="#ffffff"/><rect x="17" y="8.9" width="14" height="3" fill="#f23645"/><rect x="17" y="13.75" width="14" height="2.2" fill="#f23645"/><rect x="17" y="18.1" width="14" height="3" fill="#f23645"/><rect x="17" y="8" width="7.9" height="7.95" fill="#2196f3"/><g fill="#ffffff"><circle cx="21.4" cy="10.6" r="0.45"/><circle cx="23.5" cy="10.6" r="0.45"/><circle cx="19.4" cy="12.6" r="0.45"/><circle cx="21.4" cy="12.6" r="0.45"/><circle cx="23.5" cy="12.6" r="0.45"/><circle cx="23.5" cy="14.6" r="0.45"/></g></g>
<circle cx="17.95" cy="21" r="7.1" fill="#ffffff"/>
<g clip-path="url(#uk)"><rect x="11" y="14" width="14" height="14" fill="#1a2f9c"/><path d="M11.5 14.5l13 13M24.5 14.5l-13 13" stroke="#ffffff" stroke-width="2"/><path d="M11.5 14.5l13 13M24.5 14.5l-13 13" stroke="#f23645" stroke-width="0.7"/><path d="M11 21h14M17.95 14v14" stroke="#ffffff" stroke-width="3"/><path d="M11 21h14M17.95 14v14" stroke="#f4606e" stroke-width="1.9"/></g>
<text x="34.5" y="24" font-size="15" fill="#50535e" textLength="253" lengthAdjust="spacingAndGlyphs">British Pound / U.S. Dollar · 1D · ICE</text>
<path d="M300 12 h12 l-3 6 l3 6 h-12 z" fill="#f7525f"/>
<circle cx="340" cy="18" r="9" fill="#089981" fill-opacity="0.15"/><circle cx="340" cy="18" r="4.3" fill="#089981"/>
<g font-size="13">
<text x="365.7" y="23.3" fill="#787b86" textLength="9.5" lengthAdjust="spacingAndGlyphs">O</text>
<text x="375.5" y="23.3" fill="#5b1a13" textLength="38.5" lengthAdjust="spacingAndGlyphs">1.2745</text>
<text x="420" y="23.3" fill="#787b86" textLength="8.5" lengthAdjust="spacingAndGlyphs">H</text>
<text x="428.5" y="23.3" fill="#5b1a13" textLength="38.5" lengthAdjust="spacingAndGlyphs">1.2765</text>
<text x="475" y="23.3" fill="#787b86" textLength="6.5" lengthAdjust="spacingAndGlyphs">L</text>
<text x="481.7" y="23.3" fill="#5b1a13" textLength="38.5" lengthAdjust="spacingAndGlyphs">1.2708</text>
<text x="526" y="23.3" fill="#787b86" textLength="8" lengthAdjust="spacingAndGlyphs">C</text>
<text x="534.5" y="23.3" fill="#5b1a13" textLength="38.5" lengthAdjust="spacingAndGlyphs">1.2710</text>
<text x="581.5" y="23.3" fill="#5b1a13" textLength="97.5" lengthAdjust="spacingAndGlyphs">−0.0037 (−0.29%)</text>
</g>
<rect x="11.5" y="34.5" width="54" height="23" rx="4" fill="#ffffff" stroke="#f23645"/>
<text x="19.5" y="50.5" font-size="13" fill="#f23645" textLength="38" lengthAdjust="spacingAndGlyphs">1.2709</text>
<text x="74" y="50" font-size="11" fill="#50535e">1</text>
<rect x="88.5" y="34.5" width="54" height="23" rx="4" fill="#ffffff" stroke="#2962ff"/>
<text x="96.5" y="50.5" font-size="13" fill="#2962ff" textLength="38" lengthAdjust="spacingAndGlyphs">1.2710</text>
<text x="12" y="78.5" font-size="13" fill="#50535e" textLength="382" lengthAdjust="spacingAndGlyphs">MA Ribbon SMA close 20 SMA close 50 SMA close 100 SMA close 200</text>
<text x="404" y="78.5" font-size="13" fill="#f23645" textLength="38" lengthAdjust="spacingAndGlyphs">1.2698</text>
<text x="449" y="78.5" font-size="13" fill="#2962ff" textLength="38" lengthAdjust="spacingAndGlyphs">1.2563</text>
<text x="494" y="78.5" font-size="13" fill="#131722" textLength="51.5" lengthAdjust="spacingAndGlyphs">∅ 1.2538</text>
<rect x="12.5" y="88.5" width="28" height="20" rx="3" fill="#ffffff" fill-opacity="0.9" stroke="#e0e3eb"/>
<path d="M22.5 100.5 l4 -4 l4 4" fill="none" stroke="#131722" stroke-width="1.4"/>
<rect x="8" y="697" width="122" height="16" fill="#ffffff" fill-opacity="0.55"/><rect x="8" y="727" width="150" height="17" fill="#ffffff" fill-opacity="0.55"/>
<text x="12" y="707.6" font-size="13" fill="#50535e" textLength="67" lengthAdjust="spacingAndGlyphs">ATR 14 RMA</text>
<text x="88" y="707.6" font-size="13" fill="#b71c1c" textLength="38" lengthAdjust="spacingAndGlyphs">0.0089</text>
<text x="12" y="737.5" font-size="13" fill="#50535e" textLength="101" lengthAdjust="spacingAndGlyphs">CCI 20 hlc3 SMA 5</text>
<text x="122" y="737.5" font-size="13" fill="#2962ff" textLength="31.5" lengthAdjust="spacingAndGlyphs">60.72</text>
<g fill="#131722" stroke="#ffffff" stroke-width="1.2" paint-order="stroke"><path d="M15 774 h11.7 v14.7 h-5.7 v-8.7 h-6 z"/><circle cx="32" cy="777.1" r="2.9"/><path d="M38.6 774 h6.3 l-6.3 14.7 h-6.3 z"/></g>
</svg></body></html>
